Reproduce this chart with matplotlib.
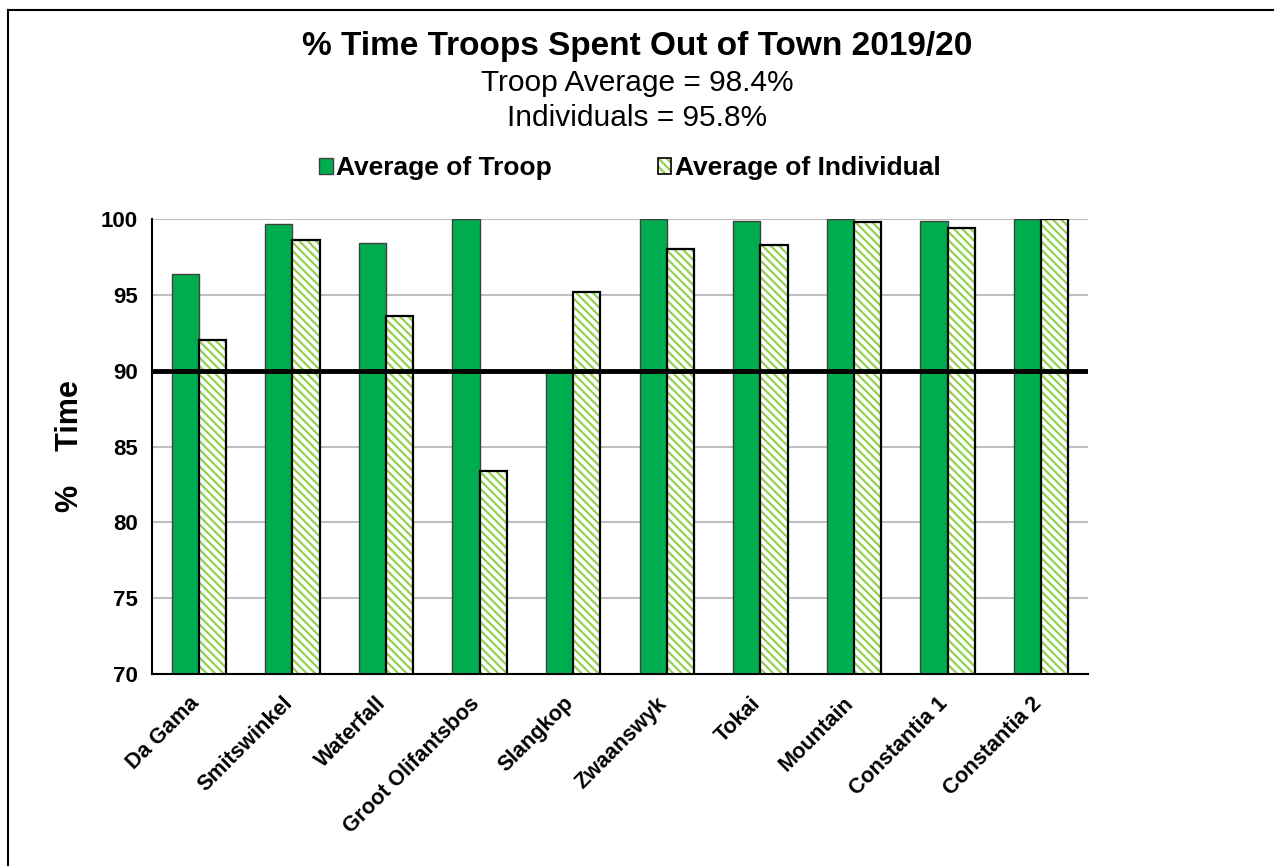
import numpy as np
import matplotlib
matplotlib.use("Agg")
import matplotlib.pyplot as plt
from matplotlib.patches import Patch
from matplotlib.lines import Line2D
from matplotlib.transforms import ScaledTranslation

plt.rcParams["font.family"] = ["Liberation Sans", "DejaVu Sans"]
plt.rcParams["hatch.linewidth"] = 1.6

# troop data
sites = ["Da Gama", "Smitswinkel", "Waterfall", "Groot Olifantsbos", "Slangkop",
         "Zwaanswyk", "Tokai", "Mountain", "Constantia 1", "Constantia 2"]
troop = [96.4, 99.7, 98.4, 100.0, 89.9, 100.0, 99.9, 100.0, 99.9, 100.0]
individual = [92.0, 98.6, 93.6, 83.4, 95.2, 98.0, 98.3, 99.8, 99.4, 100.0]
yticks = [70, 75, 80, 85, 90, 95, 100]

green = "#00AD4E"
light = "#92D050"

fig = plt.figure(figsize=(12.74, 8.66), dpi=100)
ax = fig.add_axes([152/1274, 1 - 674/866, (1088-152)/1274, (674-219)/866])

x = np.arange(len(sites))
w = 0.29
ax.bar(x - w/2, troop, w, color=green, edgecolor="#404040", linewidth=1.0, zorder=2)
# hatch drawn with its own edge colour, outline on top
ax.bar(x + w/2, individual, w, color="white", edgecolor=light, hatch="\\\\\\\\",
       linewidth=0, zorder=2)
ax.bar(x + w/2, individual, w, color="none", edgecolor="black", linewidth=1.6, zorder=3)

ax.axhline(90, color="black", linewidth=3.5, zorder=4)

ax.set_ylim(70, 100)
ax.set_xlim(-0.5, len(sites) - 0.5)
ax.set_yticks(yticks)
ax.set_yticklabels([str(t) for t in yticks], fontsize=16, fontweight="bold")
ax.set_xticks(x)
ax.set_xticklabels(sites, fontsize=15.5, fontweight="bold", rotation=45,
                   ha="right", va="center", rotation_mode="anchor")
ax.tick_params(axis="both", length=0)
ax.tick_params(axis="y", pad=10)
ax.tick_params(axis="x", pad=19)
shift = ScaledTranslation(-3/100, 0, fig.dpi_scale_trans)
for lab in ax.get_xticklabels():
    lab.set_transform(lab.get_transform() + shift)
ax.yaxis.grid(True, color="#BFBFBF", linewidth=1.5)
ax.set_axisbelow(True)
for s in ["top", "right"]:
    ax.spines[s].set_visible(False)
ax.spines["left"].set_linewidth(1.5)
ax.spines["bottom"].set_linewidth(1.5)

fig.text(70/1274, 1 - 446/866, "%    Time", rotation=90, ha="center", va="center",
         fontsize=22, fontweight="bold")

fig.text(0.5, 1 - 46/866, "% Time Troops Spent Out of Town 2019/20", ha="center",
         va="center", fontsize=24, fontweight="bold")
fig.text(0.5, 1 - 83/866, "Troop Average = 98.4%", ha="center", va="center", fontsize=21.5)
fig.text(0.5, 1 - 118/866, "Individuals = 95.8%", ha="center", va="center", fontsize=21.5)

h1 = Patch(facecolor=green, edgecolor="#404040", linewidth=1.0)
h2 = (Patch(facecolor="white", edgecolor=light, hatch="\\\\\\\\", linewidth=0),
      Patch(facecolor="none", edgecolor="black", linewidth=1.2))
fig.legend([h1, h2], ["Average of Troop", "Average of Individual"],
           loc="center", bbox_to_anchor=(630/1274, 1 - 168/866), ncol=2,
           frameon=False, prop={"size": 19, "weight": "bold"},
           handlelength=0.5, handleheight=0.55, handletextpad=0.15,
           columnspacing=4.0)

# outer frame (top and left edges)
fig.add_artist(Line2D([8/1274, 8/1274], [0, 1 - 10/866], color="black",
                      linewidth=1.5, transform=fig.transFigure))
fig.add_artist(Line2D([8/1274, 1], [1 - 10/866, 1 - 10/866], color="black",
                      linewidth=1.5, transform=fig.transFigure))

fig.savefig("out.png", dpi=100)
